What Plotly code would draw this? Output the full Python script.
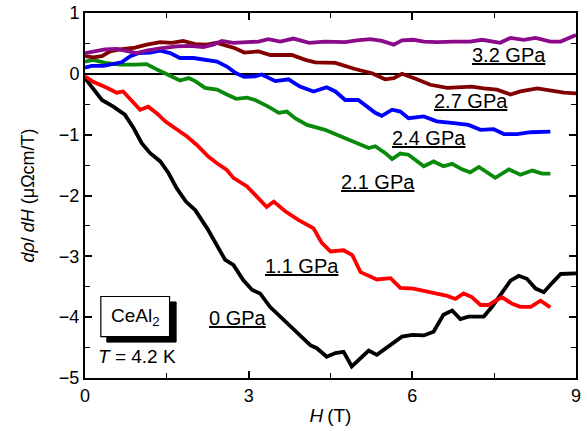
import plotly.graph_objects as go

# Field derivative of resistivity of CeAl2 at T = 4.2 K for several pressures
h_0 = [0, 0.31, 0.52, 0.73, 0.89, 1.04, 1.19, 1.38, 1.53, 1.68, 1.85, 2.02, 2.24, 2.42, 2.57, 2.72,
       2.90, 3.06, 3.21, 3.39, 3.61, 3.85, 4.13, 4.25, 4.43, 4.59, 4.74, 4.89, 5.05, 5.20, 5.35, 5.57,
       5.81, 6.0, 6.21, 6.39, 6.57, 6.73, 6.88, 7.03, 7.31, 7.46, 7.61, 7.80, 7.95, 8.10, 8.26, 8.41,
       8.56, 8.72, 9.0]
d_0 = [-0.07, -0.43, -0.54, -0.67, -0.89, -1.14, -1.30, -1.44, -1.63, -1.88, -2.10, -2.24, -2.54,
       -2.81, -3.06, -3.14, -3.39, -3.55, -3.61, -3.83, -4.02, -4.24, -4.46, -4.51, -4.65, -4.59,
       -4.57, -4.81, -4.67, -4.55, -4.62, -4.48, -4.32, -4.29, -4.30, -4.24, -3.96, -3.89, -4.03,
       -3.99, -3.99, -3.83, -3.63, -3.40, -3.32, -3.37, -3.53, -3.59, -3.44, -3.29, -3.28]

h_11 = [0, 0.15, 0.40, 0.58, 0.70, 0.86, 1.01, 1.16, 1.32, 1.47, 1.68, 1.87, 2.05, 2.26, 2.42, 2.60,
        2.72, 2.97, 3.12, 3.33, 3.46, 3.67, 3.91, 4.19, 4.34, 4.50, 4.74, 4.90, 5.05, 5.35, 5.60,
        5.78, 6.02, 6.39, 6.64, 6.79, 6.94, 7.09, 7.25, 7.40, 7.64, 7.83, 7.98, 8.17, 8.35, 8.53]
d_11 = [-0.04, -0.13, -0.23, -0.31, -0.29, -0.45, -0.59, -0.54, -0.65, -0.78, -0.92, -1.03, -1.17,
        -1.36, -1.47, -1.58, -1.71, -1.85, -1.99, -2.19, -2.10, -2.26, -2.40, -2.54, -2.78, -2.92,
        -2.90, -2.98, -3.26, -3.38, -3.36, -3.52, -3.53, -3.61, -3.65, -3.70, -3.61, -3.67, -3.80,
        -3.80, -3.67, -3.78, -3.83, -3.83, -3.73, -3.84]

h_21 = [0, 0.15, 0.37, 0.64, 0.92, 1.13, 1.32, 1.50, 1.74, 1.90, 2.02, 2.20, 2.42, 2.60, 2.77, 2.97,
        3.12, 3.36, 3.55, 3.70, 3.85, 4.07, 4.40, 4.77, 5.01, 5.20, 5.32, 5.50, 5.63, 5.78, 5.93,
        6.06, 6.21, 6.39, 6.57, 6.73, 6.91, 7.06, 7.22, 7.52, 7.77, 7.98, 8.20, 8.38, 8.53]
d_21 = [0.20, 0.23, 0.18, 0.15, 0.15, 0.16, 0.07, 0.0, -0.11, -0.07, -0.12, -0.23, -0.26, -0.34,
        -0.41, -0.39, -0.43, -0.54, -0.64, -0.62, -0.73, -0.84, -0.92, -1.06, -1.15, -1.22, -1.19,
        -1.30, -1.40, -1.31, -1.33, -1.42, -1.52, -1.44, -1.52, -1.48, -1.57, -1.62, -1.53, -1.71,
        -1.57, -1.66, -1.59, -1.64, -1.64]

h_24 = [0, 0.12, 0.34, 0.52, 0.67, 0.83, 0.98, 1.19, 1.38, 1.56, 1.74, 1.99, 2.17, 2.42, 2.60, 2.77,
        2.92, 3.12, 3.24, 3.49, 3.73, 3.94, 4.19, 4.43, 4.59, 4.77, 5.01, 5.32, 5.44, 5.63, 5.78,
        5.93, 6.21, 6.45, 6.76, 7.03, 7.25, 7.49, 7.68, 7.92, 8.17, 8.53]
d_24 = [0.10, 0.13, 0.13, 0.17, 0.19, 0.29, 0.34, 0.35, 0.38, 0.34, 0.26, 0.26, 0.23, 0.20, 0.12,
        0.01, -0.05, -0.04, -0.01, -0.12, -0.09, -0.21, -0.29, -0.22, -0.29, -0.43, -0.43, -0.64,
        -0.69, -0.59, -0.62, -0.73, -0.70, -0.78, -0.81, -0.84, -0.92, -0.91, -0.99, -0.99, -0.96,
        -0.95]

h_27 = [0, 0.15, 0.31, 0.46, 0.64, 0.92, 1.13, 1.38, 1.59, 1.80, 2.02, 2.23, 2.42, 2.60, 2.75, 2.92,
        3.18, 3.40, 3.79, 4.04, 4.22, 4.59, 4.77, 4.95, 5.26, 5.50, 5.66, 5.81, 6.06, 6.33, 6.64,
        6.88, 7.09, 7.31, 7.55, 7.80, 7.98, 8.29, 8.53, 8.78, 9.0]
d_27 = [0.29, 0.27, 0.29, 0.37, 0.40, 0.43, 0.48, 0.52, 0.51, 0.54, 0.49, 0.48, 0.51, 0.46, 0.42,
        0.35, 0.37, 0.31, 0.31, 0.23, 0.19, 0.18, 0.13, 0.08, 0.01, -0.09, -0.07, 0.0, -0.08, -0.18,
        -0.23, -0.22, -0.21, -0.24, -0.26, -0.34, -0.29, -0.24, -0.27, -0.31, -0.32]

h_32 = [0, 0.15, 0.37, 0.58, 0.76, 0.95, 1.13, 1.38, 1.68, 1.93, 2.17, 2.35, 2.51, 2.72, 2.97, 3.18,
        3.36, 3.58, 3.82, 4.11, 4.40, 4.77, 4.98, 5.23, 5.44, 5.66, 5.81, 6.02, 6.21, 6.45, 6.76,
        7.06, 7.28, 7.43, 7.61, 7.80, 8.04, 8.26, 8.53, 8.72, 9.0]
d_32 = [0.34, 0.37, 0.40, 0.41, 0.37, 0.34, 0.38, 0.42, 0.45, 0.46, 0.44, 0.48, 0.54, 0.51, 0.52,
        0.53, 0.57, 0.53, 0.58, 0.51, 0.53, 0.52, 0.55, 0.57, 0.54, 0.48, 0.55, 0.56, 0.53, 0.52,
        0.53, 0.53, 0.56, 0.54, 0.51, 0.59, 0.56, 0.59, 0.53, 0.53, 0.64]

pressure_labels = ["0 GPa", "1.1 GPa", "2.1 GPa", "2.4 GPa", "2.7 GPa", "3.2 GPa"]
series_h = [h_0, h_11, h_21, h_24, h_27, h_32]
series_d = [d_0, d_11, d_21, d_24, d_27, d_32]
colors = ["#000000", "#ff0000", "#0a8a0a", "#0000ff", "#820000", "#8a0a8a"]

# label anchor positions (H, dρ/dH)
label_pos = [(2.80, -4.02), (3.98, -3.16), (5.37, -1.77), (6.30, -1.05), (7.08, -0.45), (7.78, 0.31)]

FONT = "Liberation Sans, Arial, sans-serif"

fig = go.Figure()
for h, d, c, name in zip(series_h, series_d, colors, pressure_labels):
    fig.add_trace(go.Scatter(x=h, y=d, mode="lines", name=name,
                             line=dict(color=c, width=3.8), showlegend=False))

for name, (hx, dy) in zip(pressure_labels, label_pos):
    fig.add_annotation(x=hx, y=dy, xref="x", yref="y", text="<u>" + name + "</u>",
                       showarrow=False, font=dict(family=FONT, size=20, color="black"))

# sample box with drop shadow
fig.add_shape(type="rect", xref="x", yref="y", x0=0.40, x1=1.67, y0=-4.41, y1=-3.75,
              fillcolor="black", line=dict(color="black", width=1), layer="above")
fig.add_shape(type="rect", xref="x", yref="y", x0=0.29, x1=1.55, y0=-4.32, y1=-3.66,
              fillcolor="white", line=dict(color="black", width=1.2), layer="above")
fig.add_annotation(x=0.92, y=-3.99, xref="x", yref="y", text="CeAl<sub>2</sub>",
                   showarrow=False, font=dict(family=FONT, size=19, color="black"))
fig.add_annotation(x=0.96, y=-4.65, xref="x", yref="y", text="<i>T</i> = 4.2 K",
                   showarrow=False, font=dict(family=FONT, size=19, color="black"))

axis_common = dict(showline=True, linecolor="black", linewidth=2, mirror="allticks",
                   ticks="inside", ticklen=7, tickwidth=1.5, tickcolor="black",
                   showgrid=False, automargin=False,
                   tickfont=dict(family=FONT, size=18, color="black"))

fig.update_xaxes(range=[0, 9], dtick=3, tick0=0, zeroline=False,
                 minor=dict(ticks="inside", dtick=1.5, ticklen=5, tickwidth=1.2, tickcolor="black"),
                 title=dict(text="<i>H</i>\u2009(T)", font=dict(family=FONT, size=19, color="black"),
                            standoff=4),
                 **axis_common)
fig.update_yaxes(range=[-5, 1], dtick=1, tick0=0, zeroline=True, zerolinecolor="black",
                 zerolinewidth=1.5,
                 minor=dict(ticks="inside", dtick=0.5, ticklen=5, tickwidth=1.2, tickcolor="black"),
                 title=dict(text="<i>dρ</i>/ <i>dH</i> (μΩcm/T)",
                            font=dict(family=FONT, size=18, color="black"), standoff=20),
                 **axis_common)

fig.update_layout(width=587, height=431, margin=dict(l=85, r=11, t=13, b=53),
                  plot_bgcolor="white", paper_bgcolor="white",
                  font=dict(family=FONT, color="black"))

fig.write_html("out.html")
